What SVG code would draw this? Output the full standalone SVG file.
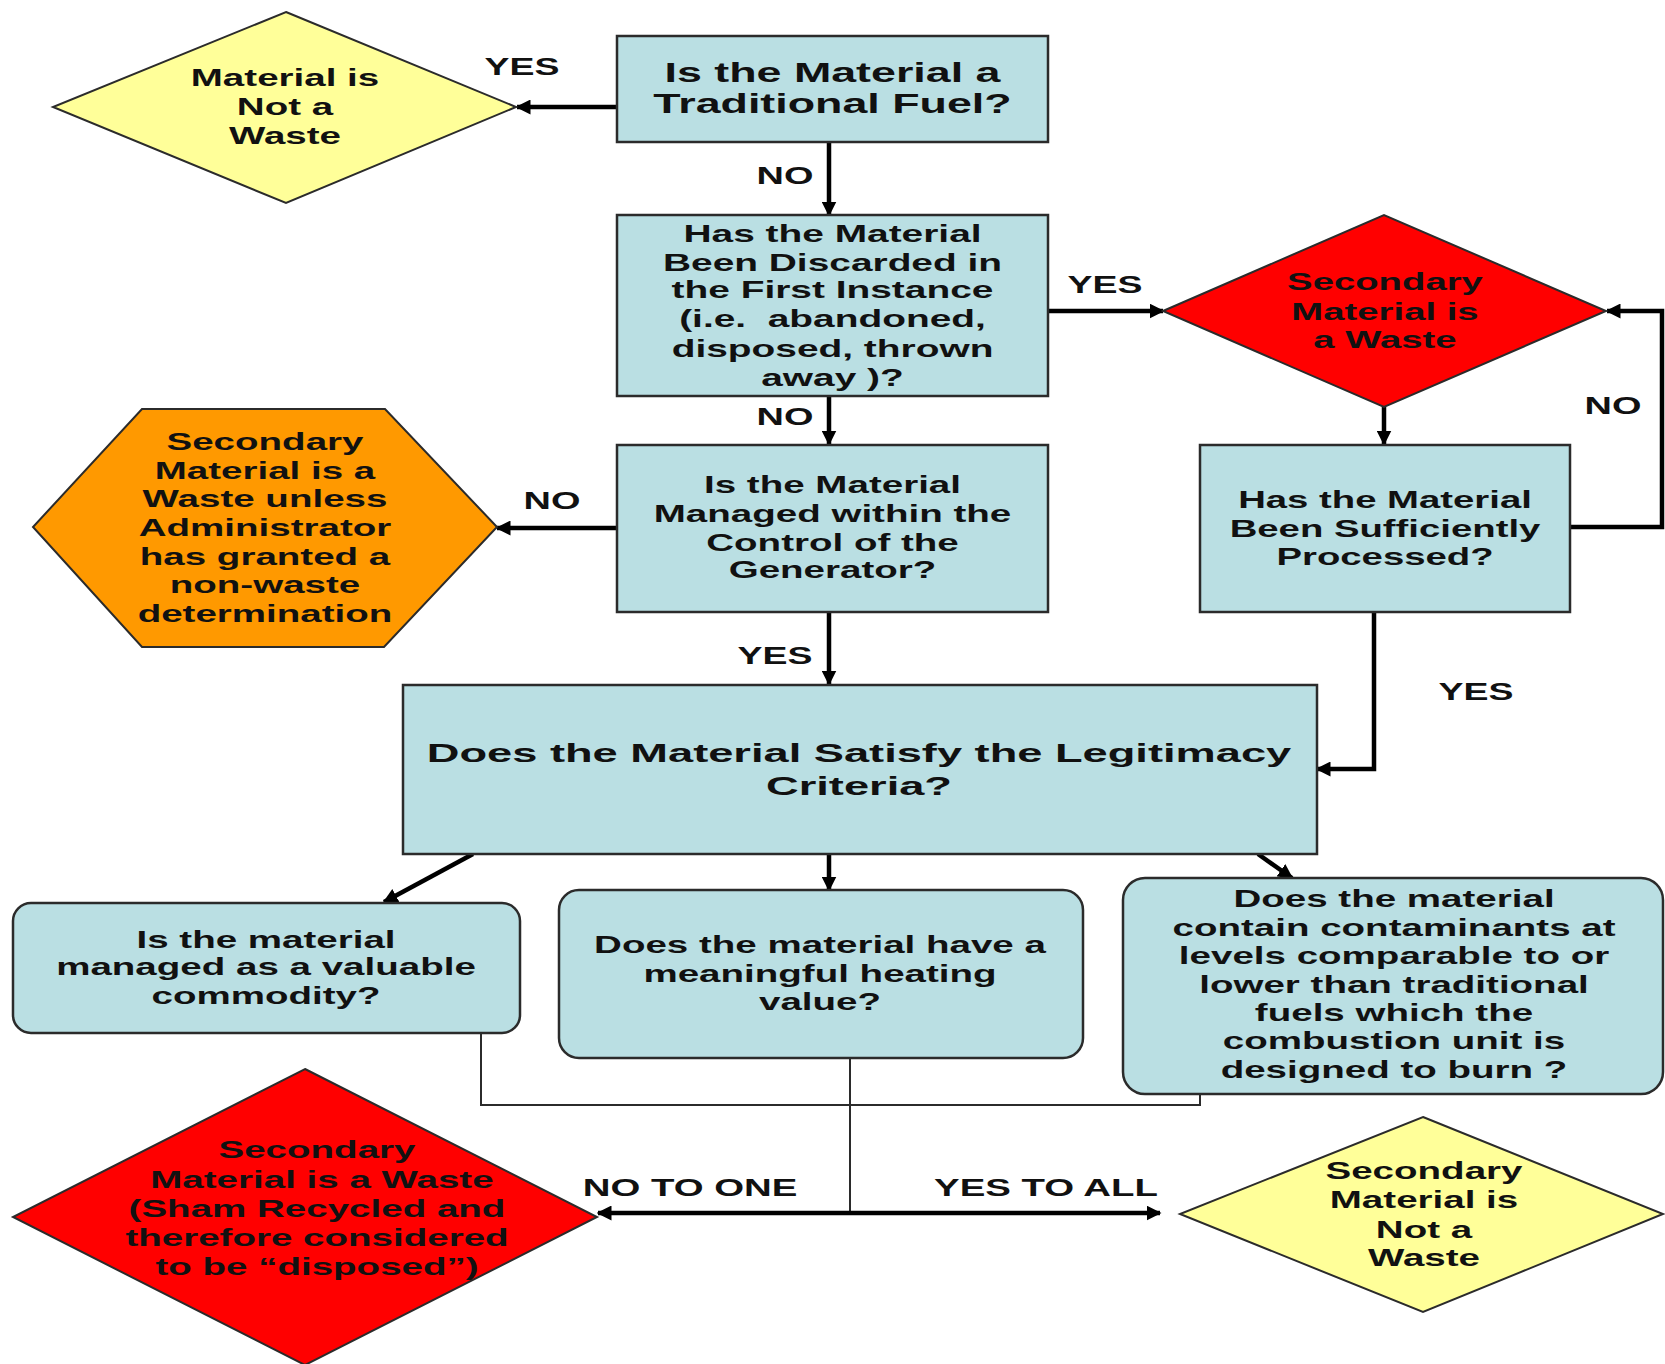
<svg xmlns="http://www.w3.org/2000/svg" width="1665" height="1364" viewBox="0 0 1665 1364">
<style>
.box{fill:#BADFE3;stroke:#2b2b2b;stroke-width:2.5}
.rbox{fill:#BADFE3;stroke:#2b2b2b;stroke-width:2.5}
.ylw{fill:#FFFF99;stroke:#2b2b2b;stroke-width:2}
.red{fill:#FF0000;stroke:#2b2b2b;stroke-width:2}
.org{fill:#FF9900;stroke:#2b2b2b;stroke-width:2}
text{font-family:"Liberation Sans",Arial,Helvetica,sans-serif;font-weight:bold;fill:#111;text-anchor:middle}
.n{font-size:23.5px}
.l{font-size:24px}
.arr{fill:none;stroke:#000;stroke-width:4.5;marker-end:url(#ah)}
.thin{fill:none;stroke:#2b2b2b;stroke-width:2}
</style>
<defs>
<marker id="ah" viewBox="0 0 10 10" refX="9" refY="5" markerWidth="15" markerHeight="15" markerUnits="userSpaceOnUse" orient="auto-start-reverse">
<path d="M0,0 L10,5 L0,10 z" fill="#000"/>
</marker>
</defs>
<rect width="1665" height="1364" fill="#fff"/>

<g id="connectors">
<line class="arr" x1="617" y1="107" x2="517" y2="107"/>
<line class="arr" x1="829" y1="142" x2="829" y2="215"/>
<line class="arr" x1="1048" y1="311" x2="1163" y2="311"/>
<line class="arr" x1="829" y1="396" x2="829" y2="444"/>
<line class="arr" x1="1384" y1="407" x2="1384" y2="444"/>
<polyline class="arr" points="1570,527 1662,527 1662,311 1607,311"/>
<line class="arr" x1="617" y1="528" x2="497" y2="528"/>
<line class="arr" x1="829" y1="612" x2="829" y2="684"/>
<polyline class="arr" points="1374,612 1374,769 1317,769"/>
<line class="arr" x1="473" y1="854" x2="384" y2="902"/>
<line class="arr" x1="829" y1="854" x2="829" y2="890"/>
<line class="arr" x1="1258" y1="854" x2="1292" y2="878"/>
<polyline class="thin" points="481,1033 481,1105 1200,1105 1200,1094"/>
<line class="thin" x1="850" y1="1058" x2="850" y2="1213"/>
<line class="arr" x1="598" y1="1213" x2="1160" y2="1213" style="marker-start:url(#ah)"/>
<text class="l" transform="matrix(1.56 0 0 1 522 0)" x="0" y="75">YES</text>
<text class="l" transform="matrix(1.58 0 0 1 785 0)" x="0" y="184">NO</text>
<text class="l" transform="matrix(1.56 0 0 1 1105 0)" x="0" y="293">YES</text>
<text class="l" transform="matrix(1.58 0 0 1 785 0)" x="0" y="425">NO</text>
<text class="l" transform="matrix(1.58 0 0 1 552 0)" x="0" y="509">NO</text>
<text class="l" transform="matrix(1.56 0 0 1 775 0)" x="0" y="664">YES</text>
<text class="l" transform="matrix(1.58 0 0 1 1613 0)" x="0" y="414">NO</text>
<text class="l" transform="matrix(1.56 0 0 1 1476 0)" x="0" y="700">YES</text>
<text class="l" transform="matrix(1.6 0 0 1 690 0)" x="0" y="1196">NO TO ONE</text>
<text class="l" transform="matrix(1.6 0 0 1 1046 0)" x="0" y="1196">YES TO ALL</text>
</g>

<g id="n-traditional-fuel">
<rect class="box" x="617" y="36" width="431" height="106"/>
<text transform="matrix(1.6 0 0 1 832.5 0)" font-size="28"><tspan x="0" y="82">Is the Material a</tspan><tspan x="0" y="113">Traditional Fuel?</tspan></text>
</g>

<g id="n-not-waste-top">
<polygon class="ylw" points="286,12 516,107 286,203 53,107"/>
<text class="n" transform="matrix(1.64 0 0 1 285 0)"><tspan x="0" y="86">Material is</tspan><tspan x="0" y="115">Not a</tspan><tspan x="0" y="144">Waste</tspan></text>
</g>

<g id="n-discarded">
<rect class="box" x="617" y="215" width="431" height="181"/>
<text transform="matrix(1.62 0 0 1 832.5 0)" font-size="24"><tspan x="0" y="242">Has the Material</tspan><tspan x="0" y="271">Been Discarded in</tspan><tspan x="0" y="298.5">the First Instance</tspan><tspan x="0" y="327">(i.e.&#160; abandoned,</tspan><tspan x="0" y="357">disposed, thrown</tspan><tspan x="0" y="386">away )?</tspan></text>
</g>

<g id="n-waste-red">
<polygon class="red" points="1163,311 1384,215 1606,311 1384,407"/>
<text class="n" transform="matrix(1.63 0 0 1 1385 0)"><tspan x="0" y="290">Secondary</tspan><tspan x="0" y="320">Material is</tspan><tspan x="0" y="348">a Waste</tspan></text>
</g>

<g id="n-processed">
<rect class="box" x="1200" y="445" width="370" height="167"/>
<text class="n" transform="matrix(1.63 0 0 1 1385 0)"><tspan x="0" y="508">Has the Material</tspan><tspan x="0" y="537">Been Sufficiently</tspan><tspan x="0" y="565">Processed?</tspan></text>
</g>

<g id="n-managed">
<rect class="box" x="617" y="445" width="431" height="167"/>
<text class="n" transform="matrix(1.64 0 0 1 832.5 0)"><tspan x="0" y="493">Is the Material</tspan><tspan x="0" y="522">Managed within the</tspan><tspan x="0" y="551">Control of the</tspan><tspan x="0" y="578">Generator?</tspan></text>
</g>

<g id="n-administrator">
<polygon class="org" points="142,409 385,409 497,527 384,647 142,647 33,527"/>
<text class="n" transform="matrix(1.64 0 0 1 265 0)"><tspan x="0" y="450">Secondary</tspan><tspan x="0" y="479">Material is a</tspan><tspan x="0" y="507">Waste unless</tspan><tspan x="0" y="536">Administrator</tspan><tspan x="0" y="565">has granted a</tspan><tspan x="0" y="593">non-waste</tspan><tspan x="0" y="622">determination</tspan></text>
</g>

<g id="n-legitimacy">
<rect class="box" x="403" y="685" width="914" height="169"/>
<text transform="matrix(1.74 0 0 1 859 0)" font-size="26"><tspan x="0" y="762">Does the Material Satisfy the Legitimacy</tspan><tspan x="0" y="795">Criteria?</tspan></text>
</g>

<g id="n-commodity">
<rect class="rbox" x="13" y="903" width="507" height="130" rx="18"/>
<text class="n" transform="matrix(1.64 0 0 1 266 0)"><tspan x="0" y="948">Is the material</tspan><tspan x="0" y="975">managed as a valuable</tspan><tspan x="0" y="1004">commodity?</tspan></text>
</g>

<g id="n-heating">
<rect class="rbox" x="559" y="890" width="524" height="168" rx="20"/>
<text class="n" transform="matrix(1.64 0 0 1 820 0)"><tspan x="0" y="953">Does the material have a</tspan><tspan x="0" y="982">meaningful heating</tspan><tspan x="0" y="1010">value?</tspan></text>
</g>

<g id="n-contaminants">
<rect class="rbox" x="1123" y="878" width="540" height="216" rx="22"/>
<text class="n" transform="matrix(1.64 0 0 1 1394 0)"><tspan x="0" y="907">Does the material</tspan><tspan x="0" y="936">contain contaminants at</tspan><tspan x="0" y="964">levels comparable to or</tspan><tspan x="0" y="993">lower than traditional</tspan><tspan x="0" y="1021">fuels which the</tspan><tspan x="0" y="1049">combustion unit is</tspan><tspan x="0" y="1078">designed to burn ?</tspan></text>
</g>

<g id="n-sham">
<polygon class="red" points="305,1069 597,1217 305,1365 13,1217"/>
<text class="n" transform="matrix(1.64 0 0 1 317 0)"><tspan x="0" y="1158">Secondary</tspan><tspan x="3" y="1188">Material is a Waste</tspan><tspan x="0" y="1217">(Sham Recycled and</tspan><tspan x="0" y="1246">therefore considered</tspan><tspan x="0" y="1275">to be “disposed”)</tspan></text>
</g>

<g id="n-not-waste-bottom">
<polygon class="ylw" points="1423,1117 1663,1214 1423,1312 1180,1214"/>
<text class="n" transform="matrix(1.64 0 0 1 1424 0)"><tspan x="0" y="1179">Secondary</tspan><tspan x="0" y="1208">Material is</tspan><tspan x="0" y="1238">Not a</tspan><tspan x="0" y="1266">Waste</tspan></text>
</g>
</svg>
